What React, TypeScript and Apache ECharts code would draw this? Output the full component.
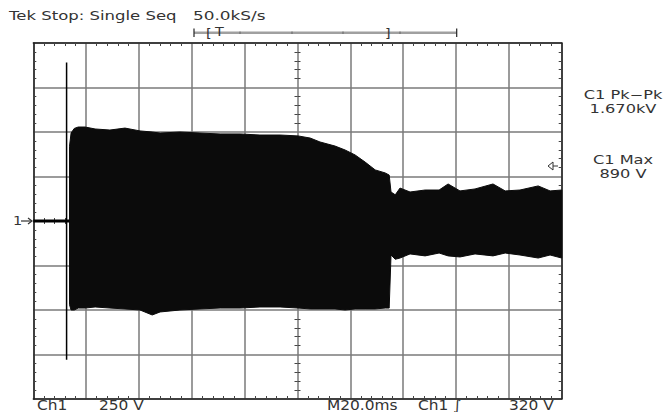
import React, { useEffect, useRef } from 'react';
import * as echarts from 'echarts';

// Time base: 20 ms/div, 10 divisions. Vertical: 250 V/div, 8 divisions.
const timeMin = 0;
const timeMax = 200;
const timeInterval = 20;
const voltMin = -1000;
const voltMax = 1000;
const voltInterval = 250;

// Envelope of the dense oscillation burst (ms, V)
const burstTimes = [
  13.7, 14.3, 15.5, 17.0, 19.6, 23.4, 29.0, 34.7, 40.4, 45.0, 48.0, 55.5, 63.1, 70.7,
  78.3, 85.8, 93.4, 100.2, 104.8, 108.5, 114.2, 118.0, 121.8, 125.6, 129.4, 133.2, 134.7,
  135.4, 137.0, 138.8, 142.6, 148.3, 153.6, 157.0, 161.5, 167.2, 174.0, 178.6, 184.2,
  191.1, 195.6, 200.0,
];
const upperEnvelope = [
  420, 494, 520, 528, 528, 517, 511, 522, 506, 500, 494, 500, 494, 489,
  489, 483, 483, 478, 466, 444, 421, 399, 371, 331, 287, 270, 258,
  163, 147, 185, 163, 174, 174, 208, 169, 180, 208, 169, 174,
  197, 169, 174,
];
const lowerEnvelope = [
  -470, -500, -500, -489, -489, -483, -489, -494, -500, -528, -511, -500, -494, -489,
  -489, -483, -483, -489, -494, -494, -494, -500, -494, -494, -494, -489, -489,
  -191, -215, -208, -185, -196, -180, -196, -202, -185, -196, -180, -191,
  -208, -191, -208,
];

// Flat trace before the burst and the single switching spike
const baselineTimes = [0, 13.7];
const baselineValues = [0, 0];
const spikeTimes = [12.6, 12.6];
const spikeValues = [890, -780];

const FONT = 'DejaVu Sans';
const TEXT_COLOR = '#333';

function txt(x: number, y: number, text: string, size: number, scaleX: number, align = 'left') {
  return {
    type: 'text',
    x,
    y,
    scaleX,
    silent: true,
    style: {
      text,
      fontSize: size,
      fontFamily: FONT,
      fill: TEXT_COLOR,
      align,
      textAlign: align,
      verticalAlign: 'middle',
      textVerticalAlign: 'middle',
    },
  };
}

function seg(x1: number, y1: number, x2: number, y2: number, color: string, w: number) {
  return {
    type: 'line',
    silent: true,
    shape: { x1, y1, x2, y2 },
    style: { stroke: color, lineWidth: w },
  };
}

function baseX(position: string) {
  return {
    type: 'value',
    min: timeMin,
    max: timeMax,
    interval: timeInterval,
    position,
    axisLine: { show: true, onZero: false, lineStyle: { color: '#222', width: 1.5 } },
    axisTick: { show: false, inside: true },
    minorTick: { show: true, splitNumber: 5, length: 3, lineStyle: { color: '#444', width: 1 } },
    axisLabel: { show: false },
    splitLine: { show: false },
  };
}

function baseY(position: string) {
  return {
    type: 'value',
    min: voltMin,
    max: voltMax,
    interval: voltInterval,
    position,
    axisLine: { show: true, onZero: false, lineStyle: { color: '#222', width: 1.5 } },
    axisTick: { show: false, inside: true },
    minorTick: { show: true, splitNumber: 5, length: 3, lineStyle: { color: '#444', width: 1 } },
    axisLabel: { show: false },
    splitLine: { show: false },
  };
}

export default function App() {
  const ref = useRef<HTMLDivElement>(null);
  useEffect(() => {
    if (!ref.current) return;
    const chart = echarts.init(ref.current, undefined, { renderer: 'svg' });

    const xMain: any = baseX('bottom');
    xMain.splitLine = { show: true, lineStyle: { color: '#7a7a7a', width: 1.5 } };
    const xTop: any = baseX('top');
    // center horizontal line ticks (on zero volts), both directions
    const xCenterDown: any = baseX('bottom');
    xCenterDown.axisLine = { show: false, onZero: true };
    xCenterDown.axisTick = { show: false, inside: false };
    const xCenterUp: any = baseX('bottom');
    xCenterUp.axisLine = { show: false, onZero: true };
    xCenterUp.axisTick = { show: false, inside: true };

    const yMain: any = baseY('left');
    yMain.splitLine = { show: true, lineStyle: { color: '#7a7a7a', width: 1.5 } };
    const yRight: any = baseY('right');
    const yCenterL: any = baseY('left');
    yCenterL.axisLine = { show: false, onZero: false };
    yCenterL.axisTick = { show: false, inside: false };
    yCenterL.offset = -264.2;
    const yCenterR: any = baseY('left');
    yCenterR.axisLine = { show: false, onZero: false };
    yCenterR.axisTick = { show: false, inside: true };
    yCenterR.offset = -264.2;

    const burstData = burstTimes.map((t, i) => [t, upperEnvelope[i], lowerEnvelope[i]]);

    const option: any = {
      animation: false,
      backgroundColor: '#ffffff',
      grid: { left: 33.3, right: 101.3, top: 43, bottom: 13, show: false },
      xAxis: [xMain, xTop, xCenterDown, xCenterUp],
      yAxis: [yMain, yRight, yCenterL, yCenterR],
      series: [
        {
          type: 'custom',
          xAxisIndex: 0,
          yAxisIndex: 0,
          data: burstData,
          renderItem: (params: any, api: any) => {
            if (params.dataIndex !== 0) return null;
            const pts: number[][] = [];
            for (let i = 0; i < burstTimes.length; i++) pts.push(api.coord([burstTimes[i], upperEnvelope[i]]));
            for (let i = burstTimes.length - 1; i >= 0; i--) pts.push(api.coord([burstTimes[i], lowerEnvelope[i]]));
            return {
              type: 'polygon',
              shape: { points: pts },
              style: { fill: '#0b0b0b', stroke: '#0b0b0b', lineWidth: 1 },
            };
          },
        },
        {
          type: 'line',
          xAxisIndex: 0,
          yAxisIndex: 0,
          data: baselineTimes.map((t, i) => [t, baselineValues[i]]),
          symbol: 'none',
          lineStyle: { color: '#000', width: 3 },
        },
        {
          type: 'line',
          xAxisIndex: 0,
          yAxisIndex: 0,
          data: spikeTimes.map((t, i) => [t, spikeValues[i]]),
          symbol: 'none',
          lineStyle: { color: '#000', width: 1.5 },
        },
      ],
      graphic: [
        txt(9, 16, 'Tek Stop: Single Seq', 13, 1.27),
        txt(193, 16, '50.0kS/s', 13, 1.3),
        // record/trigger position bar
        seg(194, 32.7, 456.7, 32.7, '#a0a0a0', 2.5),
        seg(194, 28.5, 194, 37, '#222', 1.2),
        seg(456.7, 28.5, 456.7, 37, '#222', 1.2),
        seg(240, 31.5, 240, 34, '#666', 1),
        seg(292, 31.5, 292, 34, '#666', 1),
        seg(343, 31.5, 343, 34, '#666', 1),
        seg(400, 31.5, 400, 34, '#666', 1),
        txt(206, 33, '[', 12, 1.2),
        txt(215, 32, 'T', 12, 1.2),
        txt(385, 33, ']', 12, 1.2),
        // channel 1 ground marker
        txt(13, 221, '1', 12, 1.2),
        seg(21, 221, 32, 221, '#333', 1.2),
        { type: 'polyline', silent: true, shape: { points: [[28, 218], [32, 221], [28, 224]] }, style: { stroke: '#333', lineWidth: 1.2, fill: null } },
        // trigger level marker
        { type: 'polygon', silent: true, shape: { points: [[548, 166], [553, 162], [553, 170]] }, style: { stroke: '#333', lineWidth: 1, fill: '#fff' } },
        seg(553, 166, 558, 166, '#333', 1),
        // measurements
        txt(623, 95, 'C1 Pk\u2212Pk', 12, 1.35, 'center'),
        txt(623, 109, '1.670kV', 12, 1.35, 'center'),
        txt(623, 160, 'C1 Max', 12, 1.35, 'center'),
        txt(623, 174, '890 V', 12, 1.35, 'center'),
        // bottom readout
        txt(37, 405, 'Ch1', 14, 1.1),
        txt(99, 405, '250 V', 14, 1.1),
        txt(327, 405, 'M20.0ms', 14, 1.1),
        txt(418, 405, 'Ch1 \u222B', 14, 1.1),
        txt(509, 405, '320 V', 14, 1.1),
      ],
    };
    chart.setOption(option);
    return () => chart.dispose();
  }, []);
  return (
    <div
      ref={ref}
      style={{ position: 'absolute', left: 0, top: 0, width: 663, height: 412, background: '#fff' }}
    />
  );
}
